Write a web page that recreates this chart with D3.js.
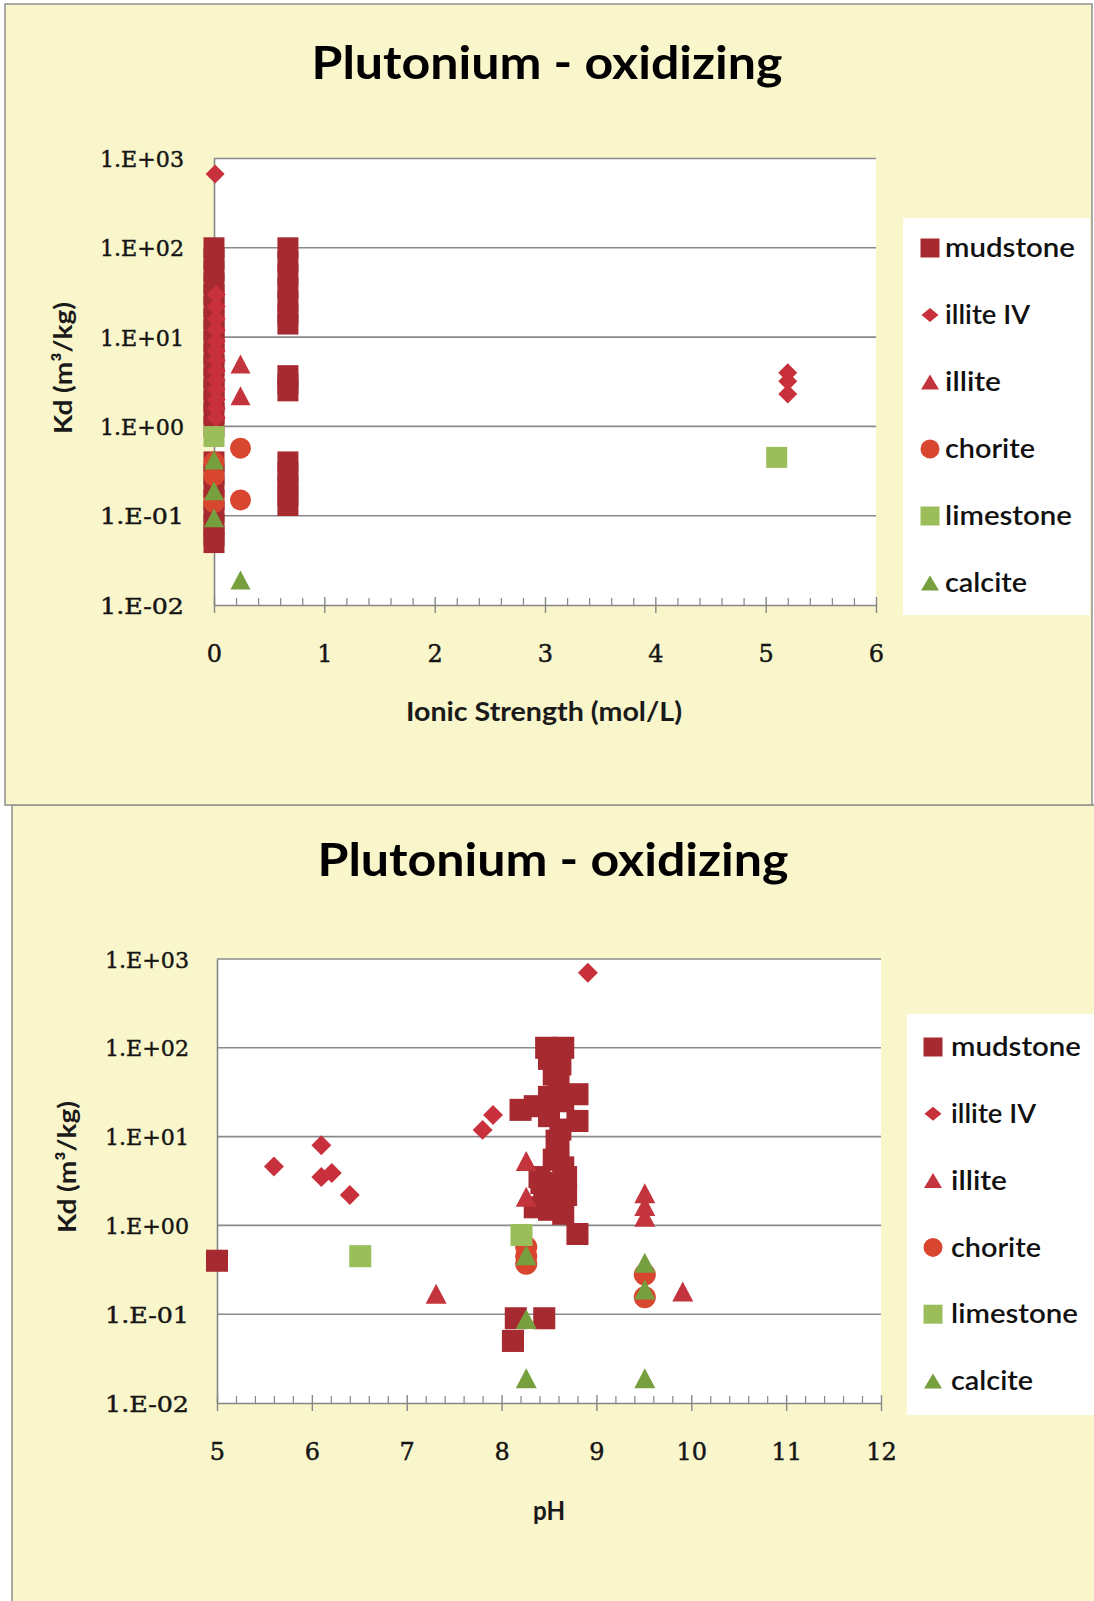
<!DOCTYPE html>
<html><head><meta charset="utf-8">
<script src="https://cdn.jsdelivr.net/npm/d3@7"></script>
<style>body{margin:0;background:#fff} svg{display:block}</style>
</head><body>
<svg id="c" width="1094" height="1601"></svg>
<script>
// ---------- data ----------
const seriesNames  = ["mudstone","illite IV","illite","chorite","limestone","calcite"];
const seriesColors = ["#A62A2F","#C8303B","#C3343D","#D8462F","#9BBE5A","#76A03E"];
const seriesShapes = ["square","diamond","triangle","circle","square","triangle"];

const kdTickValues = [0.01,0.1,1,10,100,1000];
const kdTickLabels = ["1.E-02","1.E-01","1.E+00","1.E+01","1.E+02","1.E+03"];
const ionicTickValues = [0,1,2,3,4,5,6];
const phTickValues = [5,6,7,8,9,10,11,12];

// Chart 1: [ionic strength (mol/L), Kd (m3/kg)]
const ionicMudstone = [
  [0,100],[0,75],[0,55],[0,40],[0,30],[0,22],[0,16],[0,12],[0,9],[0,6.5],[0,4.8],[0,3.5],
  [0,2.6],[0,1.9],[0,1.4],[0,1.0],[0,0.4],[0,0.29],[0,0.21],[0,0.15],[0,0.11],[0,0.08],[0,0.06],[0,0.05],
  [0.67,100],[0.67,70],[0.67,50],[0.67,35],[0.67,25],[0.67,18],[0.67,14],
  [0.67,3.7],[0.67,3.0],[0.67,2.5],
  [0.67,0.4],[0.67,0.3],[0.67,0.22],[0.67,0.17],[0.67,0.13]
];
const ionicIlliteIV = [
  [0.01,670],[0.02,30],[0.02,22],[0.02,16],[0.02,12],[0.02,9],[0.02,7],[0.02,5.5],
  [0.02,4.2],[0.02,3.3],[0.02,2.6],[0.02,2.0],[0.02,1.6],[0.02,1.25],
  [5.2,4.0],[5.2,3.2],[5.2,2.3]
];
const ionicIllite = [[0.24,5.0],[0.24,2.2]];
const ionicChorite = [[0.24,0.57],[0.24,0.15],[0,0.4],[0,0.28],[0,0.14]];
const ionicLimestone = [[0,0.77],[5.1,0.45]];
const ionicCalcite = [[0,0.42],[0,0.19],[0,0.095],[0.24,0.019]];

// Chart 2: [pH, Kd (m3/kg)]
const phMudstone = [
  [5.0,0.4],
  [8.15,0.09],[8.45,0.09],[8.12,0.05],
  [8.2,20],[8.35,22],
  [8.47,100],[8.65,100],[8.5,75],[8.62,65],[8.55,50],[8.6,40],[8.8,30],[8.5,28],[8.65,25],
  [8.8,15],[8.5,17],[8.62,12],[8.58,9],[8.6,7],[8.55,5.5],[8.65,4.5],[8.4,3.5],[8.6,3],
  [8.42,3.0],[8.68,3.5],[8.68,2.2],[8.45,2.0],[8.62,1.6],
  [8.58,2.2],[8.55,1.9],[8.35,1.6],[8.5,1.5],[8.65,1.35],[8.8,0.8]
];
const phIlliteIV = [[5.6,4.6],[6.1,8.0],[6.1,3.5],[6.21,3.9],[6.4,2.2],[7.8,11.9],[7.91,17.5],[8.91,700]];
const phIllite = [[7.31,0.17],[8.26,5.3],[8.26,2.1],[9.51,2.3],[9.51,1.65],[9.51,1.25],[9.91,0.18]];
const phChorite = [[8.26,0.57],[8.26,0.45],[8.26,0.37],[9.51,0.28],[9.51,0.155]];
const phLimestone = [[6.51,0.45],[8.21,0.78]];
const phCalcite = [[8.26,0.46],[8.26,0.088],[8.26,0.019],[9.51,0.38],[9.51,0.19],[9.51,0.019]];

// ---------- drawing ----------
const PANEL = "#FAF6CB", BORDER = "#8E8E8E", GRID = "#8A8A8A", AXIS = "#868686";
const svg = d3.select("#c");

svg.append("rect").attr("x",12).attr("y",805).attr("width",1200).attr("height",900)
  .attr("fill",PANEL).attr("stroke",BORDER).attr("stroke-width",1.5);
svg.append("rect").attr("x",5).attr("y",4).attr("width",1087).attr("height",801)
  .attr("fill",PANEL).attr("stroke",BORDER).attr("stroke-width",1.5);

function markerPath(shape, w, h) {
  const a = w/2, b = (h===undefined? w: h)/2;
  if (shape==="square") return `M${-a},${-b}H${a}V${b}H${-a}Z`;
  if (shape==="diamond") return `M0,${-b}L${a},0L0,${b}L${-a},0Z`;
  if (shape==="triangle") return `M0,${-b}L${a},${b}L${-a},${b}Z`;
  return `M${a},0A${a},${a} 0 1,1 ${-a},0A${a},${a} 0 1,1 ${a},0Z`;
}
const plotSize = {square:[21,21], diamond:[19,19], triangle:[20,19], circle:[21,21]};
const legSize = {square:[19,19], diamond:[17,14], triangle:[18,15], circle:[19,19]};

function drawChart(o) {
  const g = svg.append("g");
  const x = d3.scaleLinear().domain(o.xDomain).range([o.left, o.right]);
  const y = d3.scaleLog().domain([0.01,1000]).range([o.bottom, o.top]);

  // title
  g.append("text").attr("x",o.titleX).attr("y",o.titleY)
    .attr("text-anchor","middle").attr("font-family","Lato, 'Open Sans', sans-serif")
    .attr("font-weight",700).attr("font-size",46).attr("fill","#000")
    .attr("textLength",471).attr("lengthAdjust","spacingAndGlyphs")
    .text("Plutonium - oxidizing");

  // plot area
  g.append("rect").attr("x",o.left).attr("y",o.top)
    .attr("width",o.right-o.left).attr("height",o.bottom-o.top).attr("fill","#fff");

  // gridlines
  g.append("g").selectAll("line").data(kdTickValues.slice(1)).join("line")
    .attr("x1",o.left).attr("x2",o.right).attr("y1",d=>y(d)).attr("y2",d=>y(d))
    .attr("stroke",GRID).attr("stroke-width",1.6);

  // y axis
  const ya = g.append("g").attr("transform",`translate(${o.left},0)`)
    .call(d3.axisLeft(y).tickValues(kdTickValues).tickFormat((d,i)=>kdTickLabels[i]).tickSize(0).tickPadding(o.yPad));
  ya.select(".domain").attr("stroke",AXIS).attr("stroke-width",1.6);
  ya.selectAll("text").attr("font-family","'DejaVu Serif', serif").attr("font-size",23)
    .attr("font-weight",400).attr("fill","#151515").attr("stroke","#151515").attr("stroke-width",0.45)
    .attr("dy","0.35em").attr("textLength",84).attr("lengthAdjust","spacingAndGlyphs");

  // x axis
  const minor = d3.range(o.xDomain[0], o.xDomain[1]+1e-9, 0.2).filter(v=>Math.abs(v-Math.round(v))>1e-6);
  const xa = g.append("g").attr("transform",`translate(0,${o.bottom})`)
    .call(d3.axisBottom(x).tickValues(o.xTicks).tickFormat(d3.format("d")).tickSize(8).tickSizeOuter(0));
  xa.select(".domain").attr("stroke",AXIS).attr("stroke-width",1.6);
  xa.selectAll("line").attr("stroke",AXIS).attr("stroke-width",1.4);
  xa.selectAll("text").attr("font-family","'DejaVu Serif', serif").attr("font-size",24)
    .attr("font-weight",400).attr("fill","#151515").attr("stroke","#151515").attr("stroke-width",0.45)
    .attr("y",o.xLabelOff).attr("dy","0.35em");
  const xUp = g.append("g").attr("transform",`translate(0,${o.bottom})`)
    .call(d3.axisTop(x).tickValues(o.xTicks).tickFormat("").tickSize(8).tickSizeOuter(0));
  xUp.select(".domain").remove();
  xUp.selectAll("line").attr("stroke",AXIS).attr("stroke-width",1.4);
  const xMin = g.append("g").attr("transform",`translate(0,${o.bottom})`)
    .call(d3.axisTop(x).tickValues(minor).tickFormat("").tickSize(7).tickSizeOuter(0));
  xMin.select(".domain").remove();
  xMin.selectAll("line").attr("stroke",AXIS).attr("stroke-width",1.2);

  // axis titles
  g.append("text").attr("x",o.xTitleX).attr("y",o.xTitleY).attr("dy","0.35em")
    .attr("text-anchor","middle").attr("font-family","Lato, sans-serif").attr("font-size",27)
    .attr("font-weight",700).attr("fill","#1a1a1a")
    .attr("textLength",o.xTitleLen).attr("lengthAdjust","spacingAndGlyphs").text(o.xTitle);
  g.append("text").attr("transform",`translate(${o.yTitleX},${o.yTitleY}) rotate(-90)`).attr("dy","0.35em")
    .attr("text-anchor","middle").attr("font-family","Lato, sans-serif").attr("font-size",25)
    .attr("font-weight",700).attr("fill","#1a1a1a")
    .attr("textLength",132).attr("lengthAdjust","spacingAndGlyphs").text("Kd (m³/kg)");

  // markers
  o.series.forEach((data,i)=>{
    const sh = seriesShapes[i], sz = plotSize[sh];
    g.append("g").selectAll("path").data(data).join("path")
      .attr("transform",d=>`translate(${x(d[0])},${y(d[1])})`)
      .attr("d",markerPath(sh, sz[0]*o.mScale, sz[1]*o.mScale))
      .attr("fill",seriesColors[i]);
  });

  // legend
  g.append("rect").attr("x",o.legX).attr("y",o.legY).attr("width",o.legW).attr("height",o.legH).attr("fill","#fff");
  const legLens = [130,85,56,90,127,82];
  seriesNames.forEach((nm,i)=>{
    const cy = o.legRow0 + i*o.legStep;
    const sh = seriesShapes[i], sz = legSize[sh];
    g.append("path").attr("transform",`translate(${o.legMarkX},${cy})`)
      .attr("d",markerPath(sh, sz[0], sz[1])).attr("fill",seriesColors[i]);
    g.append("text").attr("x",o.legTextX).attr("y",cy).attr("dy","0.35em")
      .attr("font-family","Lato, sans-serif").attr("font-size",26).attr("font-weight",600)
      .attr("fill","#111").attr("textLength",legLens[i]).attr("lengthAdjust","spacingAndGlyphs").text(nm);
  });
}

drawChart({
  xDomain:[0,6], xTicks:ionicTickValues, left:214, right:876, top:158.5, bottom:605,
  titleX:547, titleY:79, yPad:30, xLabelOff:49, mScale:1,
  xTitle:"Ionic Strength (mol/L)", xTitleX:544, xTitleY:712, xTitleLen:276,
  yTitleX:63, yTitleY:368,
  series:[ionicMudstone, ionicIlliteIV, ionicIllite, ionicChorite, ionicLimestone, ionicCalcite],
  legX:903, legY:218, legW:187, legH:397, legRow0:248, legStep:67, legMarkX:930, legTextX:945
});

drawChart({
  xDomain:[5,12], xTicks:phTickValues, left:217, right:881, top:959, bottom:1403,
  titleX:553, titleY:876, yPad:28, xLabelOff:49, mScale:1.05,
  xTitle:"pH", xTitleX:549, xTitleY:1511, xTitleLen:32,
  yTitleX:67, yTitleY:1167,
  series:[phMudstone, phIlliteIV, phIllite, phChorite, phLimestone, phCalcite],
  legX:907, legY:1014, legW:200, legH:401, legRow0:1047, legStep:66.8, legMarkX:933, legTextX:951
});
</script>
</body></html>
